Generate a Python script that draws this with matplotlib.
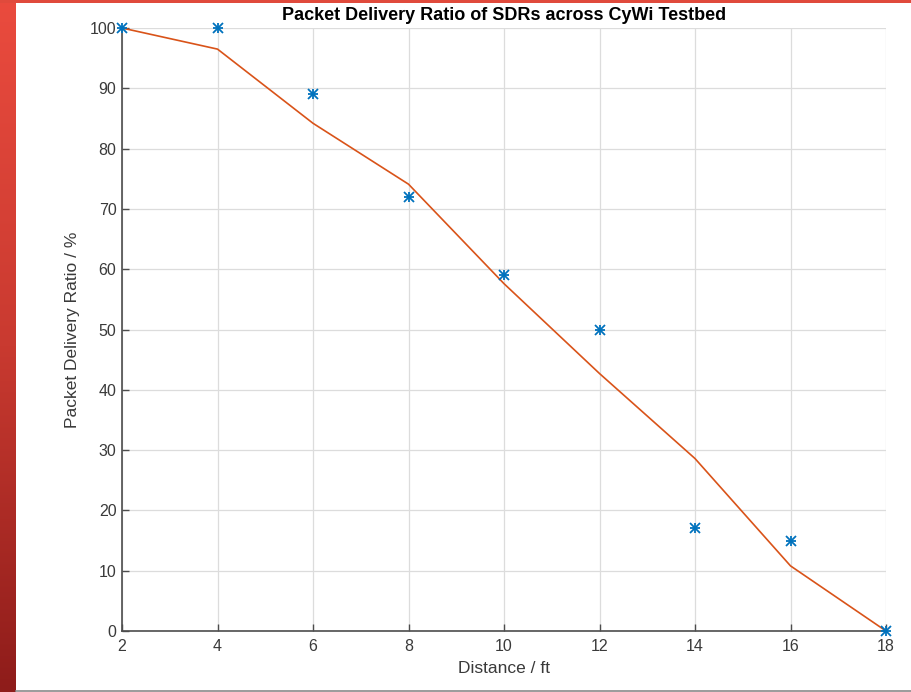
import matplotlib
matplotlib.use("Agg")
import matplotlib.pyplot as plt
import numpy as np
from matplotlib.lines import Line2D
from matplotlib.colors import LinearSegmentedColormap

# Measured points and fitted curve
distance = [2, 4, 6, 8, 10, 12, 14, 16, 18]
pdr_measured = [100, 100, 89, 72, 59, 50, 17, 15, 0]
pdr_fit = [100, 96.5, 84.2, 74.1, 57.6, 42.7, 28.6, 10.8, 0]

x_ticks = [2, 4, 6, 8, 10, 12, 14, 16, 18]
y_ticks = [0, 10, 20, 30, 40, 50, 60, 70, 80, 90, 100]

plt.rcParams['font.family'] = ['Liberation Sans', 'DejaVu Sans']

W, H = 912, 692
fig = plt.figure(figsize=(W / 100, H / 100), dpi=100, facecolor='white')

# red frame of the screenshot (left strip + top line)
strip = fig.add_axes([0, 0, 16 / W, 1])
grad = np.linspace(0, 1, 256).reshape(-1, 1)
cmap = LinearSegmentedColormap.from_list('redgrad', ['#ea4b3e', '#c93a30', '#8e1c1a'])
strip.imshow(grad, aspect='auto', cmap=cmap, extent=[0, 1, 0, 1], origin='upper')
strip.axis('off')
fig.add_artist(plt.Rectangle((0, 1 - 3 / H), 1, 3 / H, transform=fig.transFigure,
                             facecolor='#e04a3c', edgecolor='none'))
fig.add_artist(Line2D([16 / W, 1], [1.5 / H, 1.5 / H], transform=fig.transFigure,
                      color='#8a8a8a', lw=1.2))

ax = fig.add_axes([122 / W, 1 - 631 / H, (886 - 122) / W, (631 - 28) / H])
# MATLAB style asterisk = plus + cross
for m in ['+', 'x']:
    ax.plot(distance, pdr_measured, m, color='#0072BD', markersize=7, mew=1.3,
            clip_on=False, zorder=3)
ax.plot(distance, pdr_fit, '-', color='#D95319', lw=1.2, clip_on=False, zorder=2)

ax.set_xlim(2, 18)
ax.set_ylim(0, 100)
ax.set_xticks(x_ticks)
ax.set_yticks(y_ticks)
ax.grid(True, color='#dcdcdc', lw=0.9)
ax.set_axisbelow(True)

for s in ['top', 'right']:
    ax.spines[s].set_visible(False)
for s in ['left', 'bottom']:
    ax.spines[s].set_color('#4d4d4d')
    ax.spines[s].set_linewidth(1.2)

ax.tick_params(direction='in', length=5, width=1, color='#4d4d4d',
               labelsize=11.5, labelcolor='#3a3a3a', pad=4)
ax.tick_params(axis='x', pad=6)

ax.set_xlabel('Distance / ft', fontsize=12.5, color='#3a3a3a', labelpad=5)
ax.set_ylabel('Packet Delivery Ratio / %', fontsize=12.5, color='#3a3a3a', labelpad=7)
ax.set_title('Packet Delivery Ratio of SDRs across CyWi Testbed', fontsize=13,
             fontweight='bold', color='black', pad=6)

fig.savefig('out.png', dpi=100, facecolor='white')
